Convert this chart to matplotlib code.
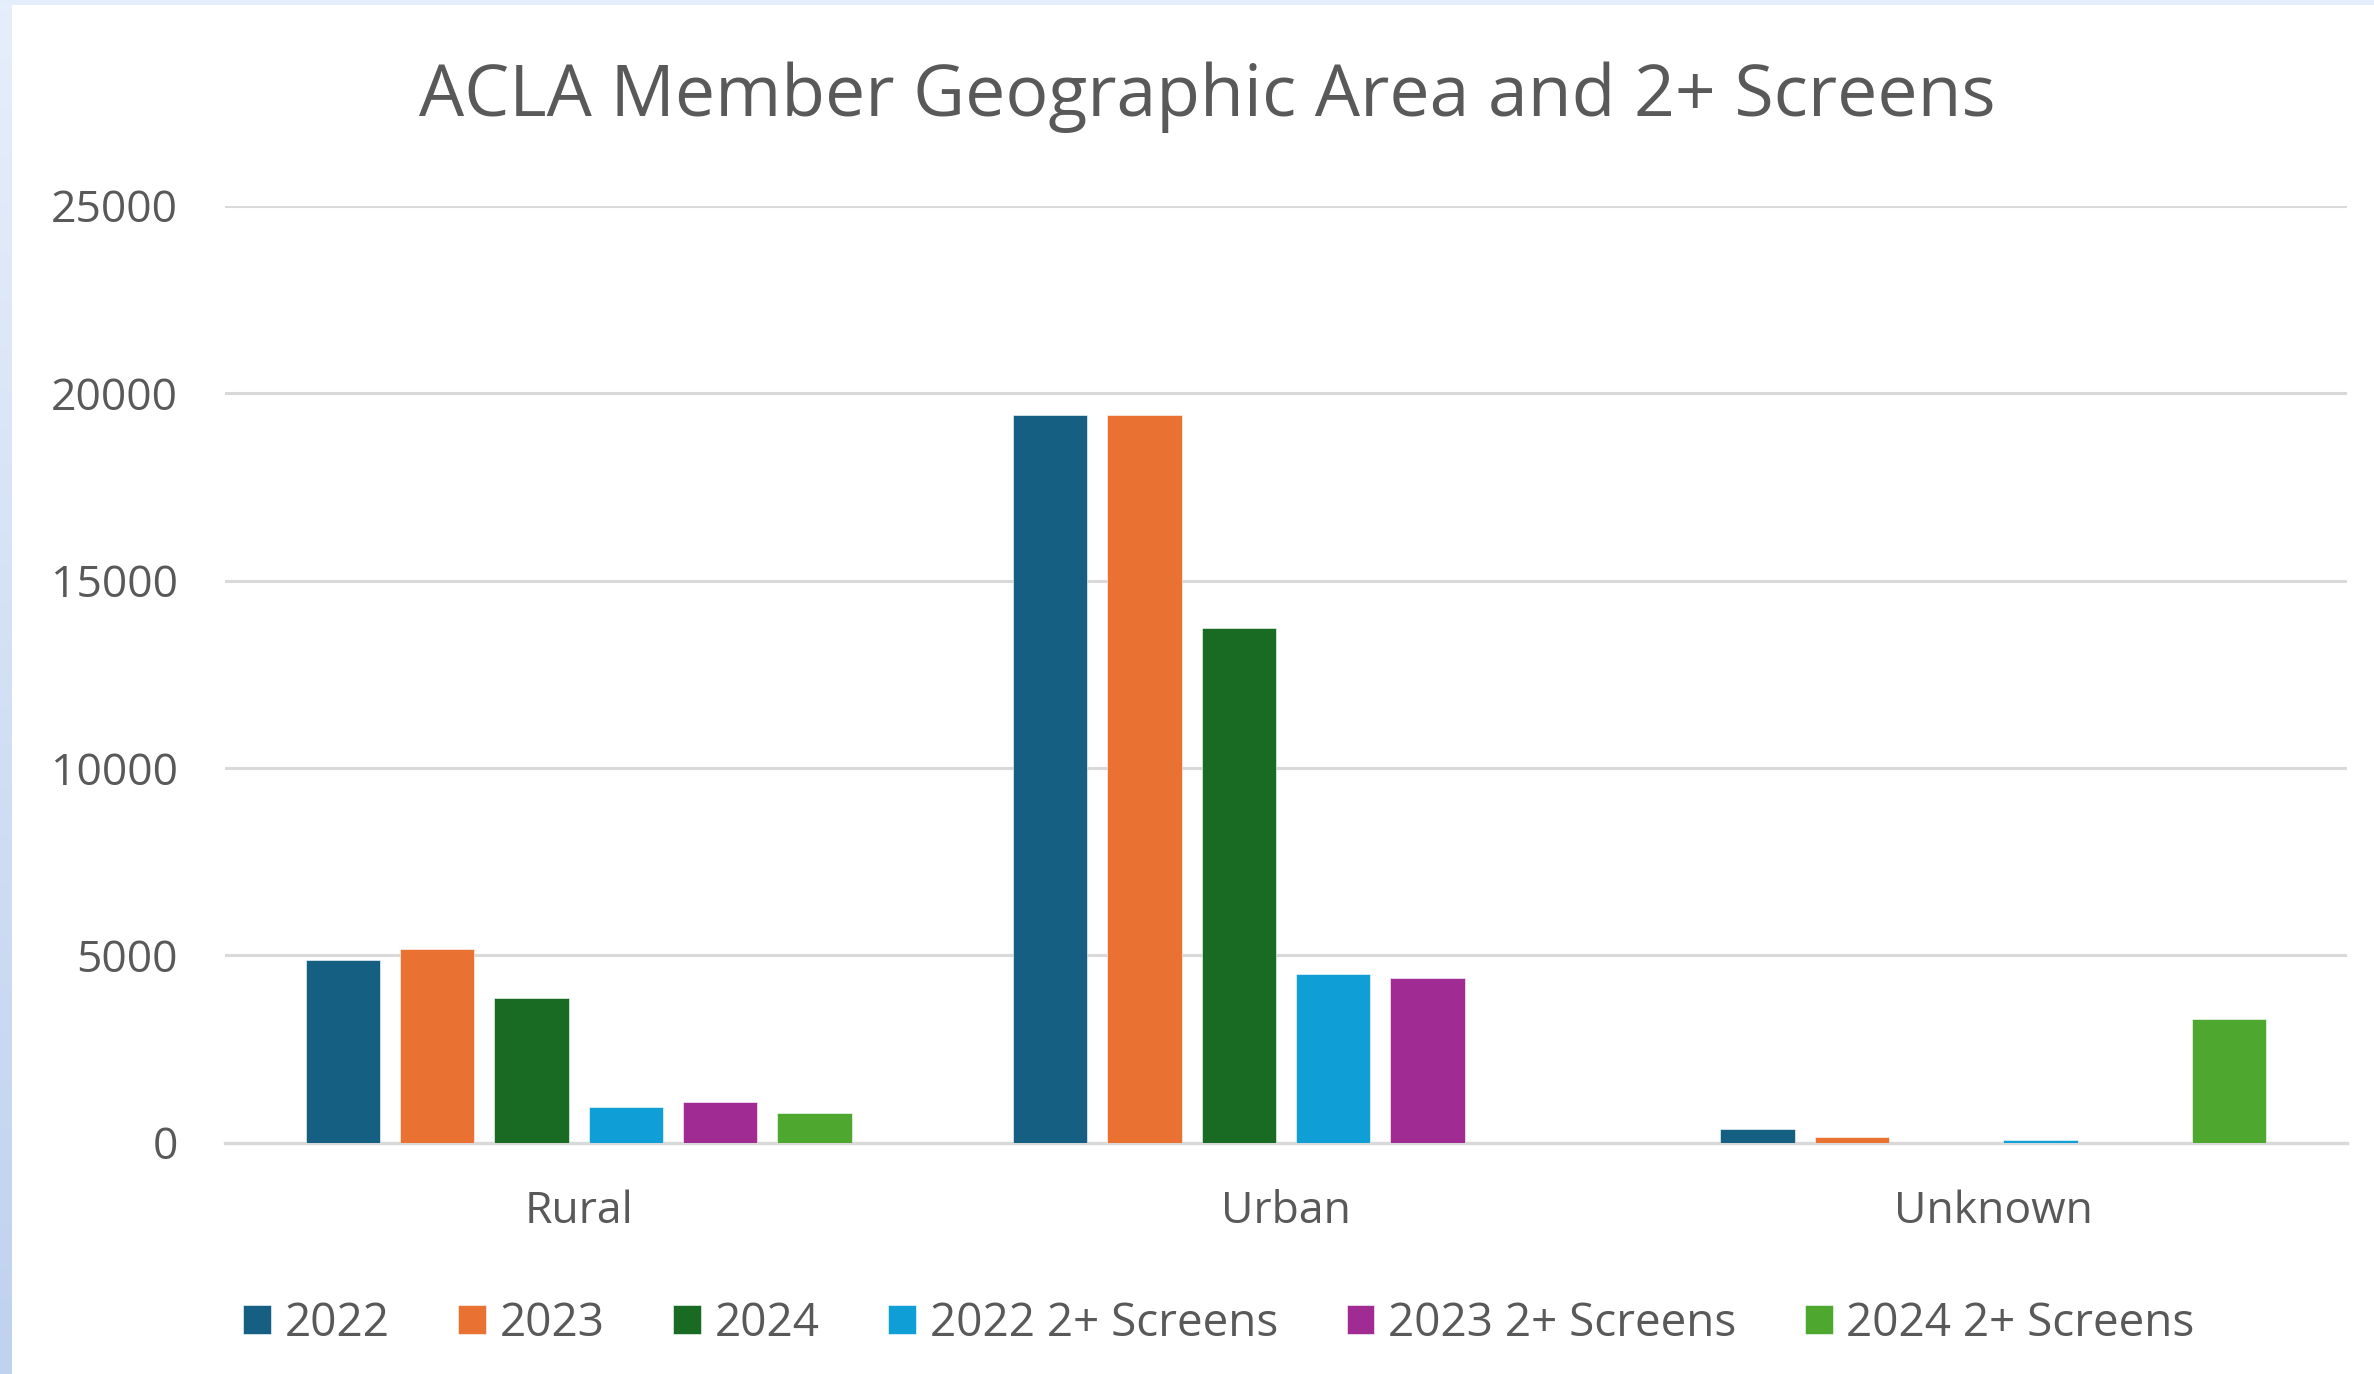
import numpy as np
import matplotlib
matplotlib.use("Agg")
import matplotlib.pyplot as plt
from matplotlib.patches import Rectangle
from matplotlib.colors import LinearSegmentedColormap

plt.rcParams['font.family'] = ['Open Sans', 'DejaVu Sans']

# data
areas = ["Rural", "Urban", "Unknown"]
series_names = ["2022", "2023", "2024", "2022 2+ Screens", "2023 2+ Screens", "2024 2+ Screens"]
v2022 = [4880, 19420, 356]
v2023 = [5170, 19420, 160]
v2024 = [3870, 13740, 0]
v2022_2p = [942, 4490, 62]
v2023_2p = [1076, 4386, 0]
v2024_2p = [792, 0, 3310]
series_values = [v2022, v2023, v2024, v2022_2p, v2023_2p, v2024_2p]
colors = ["#156082", "#E97132", "#196B24", "#0F9ED5", "#A02B93", "#4EA72E"]
yticks = [0, 5000, 10000, 15000, 20000, 25000]

text_gray = "#595959"
W, H = 2374, 1374
fig = plt.figure(figsize=(W / 100, H / 100), dpi=100, facecolor="#E4EDFB")

# white chart panel over the slide background
fig.patches.append(Rectangle((12 / W, 0), 1, 1 - 5 / H, transform=fig.transFigure,
                             facecolor="white", edgecolor="none", zorder=-5))
# gradient strip on the left edge
strip = fig.add_axes([0, 0, 12 / W, 1 - 5 / H])
grad = np.linspace(0, 1, 256).reshape(-1, 1)
cmap = LinearSegmentedColormap.from_list("edge", ["#E6EEFB", "#BFD2EE"])
strip.imshow(grad, aspect="auto", cmap=cmap, origin="upper")
strip.axis("off")

ax = fig.add_axes([225 / W, 231.3 / H, (2347 - 225) / W, (1142.7 - 205.7) / H])
ax.set_facecolor("none")
ax.set_zorder(2)

x = np.arange(len(areas))
step = 0.1333
width = 0.105
for j, (name, vals, col) in enumerate(zip(series_names, series_values, colors)):
    ax.bar(x + (j - 2.5) * step, vals, width, color=col, label=name,
           edgecolor="white", linewidth=0.4, zorder=3)

ax.set_xlim(-0.5, len(areas) - 0.5)
ax.set_ylim(0, 25000)
ax.set_yticks(yticks)
ax.set_yticklabels([str(t) for t in yticks])
ax.set_xticks(x)
ax.set_xticklabels(areas)
ax.yaxis.grid(True, color="#D9D9D9", linewidth=2.2, zorder=0)
ax.set_axisbelow(True)
for s in ["top", "right", "left"]:
    ax.spines[s].set_visible(False)
ax.spines["bottom"].set_color("#D9D9D9")
ax.spines["bottom"].set_linewidth(2.4)
ax.spines["bottom"].set_zorder(2)
ax.tick_params(axis="both", length=0, labelsize=32, labelcolor=text_gray)
ax.tick_params(axis="y", pad=34)
ax.tick_params(axis="x", pad=34)

fig.text(0.5085, 1 - 97 / H, "ACLA Member Geographic Area and 2+ Screens",
         ha="center", va="center", fontsize=51.5, color=text_gray)

leg = fig.legend(loc="center", bbox_to_anchor=(1219 / W, 1 - 1324 / H), ncol=6,
                 frameon=False, fontsize=33, handlelength=0.6, handleheight=0.6,
                 handletextpad=0.3, columnspacing=1.5, labelcolor=text_gray)

fig.savefig("out.png", dpi=100, facecolor=fig.get_facecolor())
